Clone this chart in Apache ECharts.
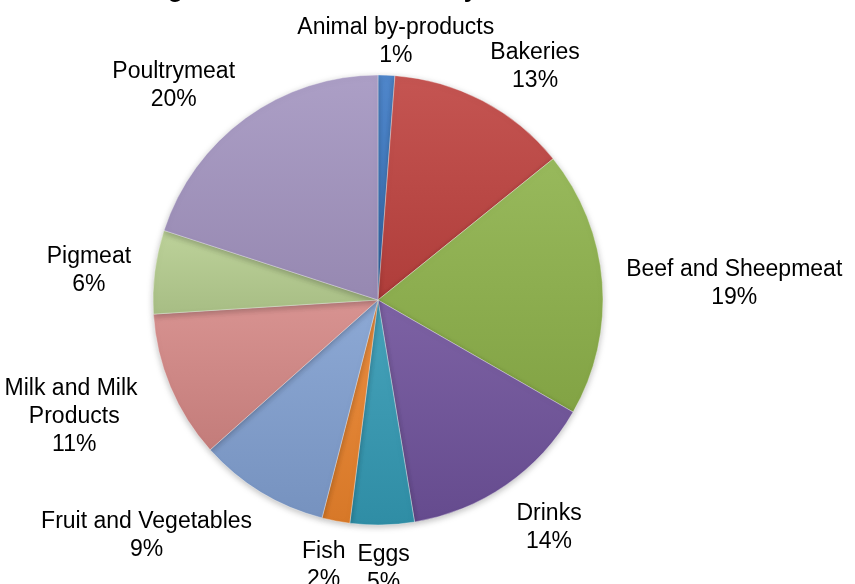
<!DOCTYPE html>
<html>
<head>
<meta charset="utf-8">
<script src="https://cdn.jsdelivr.net/npm/echarts@6/dist/echarts.min.js"></script>
<style>
    html, body { margin: 0; padding: 0; background: #fff; }
    #main { width: 855px; height: 584px; }
</style>
</head>
<body>
<div id="main"></div>
<script>
var titleText = 'Percentage of Food Businesses by Sector in Northern Ireland';
var sectors = ['Animal by-products', 'Bakeries', 'Beef and Sheepmeat', 'Drinks', 'Eggs',
    'Fish', 'Fruit and Vegetables', 'Milk and Milk Products', 'Pigmeat', 'Poultrymeat'];
var shares = [1.2, 13.0, 19.1, 14.1, 4.6, 2.0, 9.4, 10.6, 6.0, 20.0];
var colors = ['#3b78c4', '#be423f', '#8db14a', '#6e519a', '#3399b3',
    '#ea822c', '#809fd0', '#d48785', '#b6cd8f', '#a394c0'];

var pieCenter = [378, 300];
var pieRadius = 225;
var total = shares.reduce(function (a, b) { return a + b; }, 0);

// lighten (amt > 0) or darken (amt < 0) a hex colour
function shade(hex, amt) {
    var n = parseInt(hex.slice(1), 16);
    var ch = [(n >> 16) & 255, (n >> 8) & 255, n & 255].map(function (v) {
        var t = amt > 0 ? v + (255 - v) * amt : v * (1 + amt);
        return Math.round(Math.max(0, Math.min(255, t)));
    });
    return 'rgb(' + ch.join(',') + ')';
}

function renderChart(dom) {
    var myChart = echarts.init(dom);
    var data = sectors.map(function (name, i) {
        var item = {
            name: name,
            value: shares[i],
            itemStyle: {
                color: new echarts.graphic.LinearGradient(0, 0, 0, 1, [
                    { offset: 0, color: shade(colors[i], 0.1) },
                    { offset: 1, color: shade(colors[i], -0.08) }
                ])
            }
        };
        if (name === 'Milk and Milk Products') {
            item.label = { width: 150, overflow: 'break' };
        }
        return item;
    });

    var option = {
        backgroundColor: '#fff',
        animation: false,
        title: {
            text: titleText,
            left: 'center',
            top: -27,
            textStyle: {
                fontFamily: 'Arial, "Liberation Sans", sans-serif',
                fontSize: 25,
                fontWeight: 'bold',
                color: '#000'
            }
        },
        series: [
            {
                type: 'pie',
                center: pieCenter,
                radius: pieRadius,
                startAngle: 90,
                clockwise: true,
                avoidLabelOverlap: false,
                data: data,
                itemStyle: {
                    borderColor: 'rgba(255,255,255,0.35)',
                    borderWidth: 1,
                    shadowBlur: 6,
                    shadowColor: 'rgba(0,0,0,0.25)',
                    shadowOffsetY: 2
                },
                label: {
                    show: true,
                    position: 'outside',
                    color: '#000',
                    fontFamily: 'Arial, "Liberation Sans", sans-serif',
                    fontSize: 23,
                    lineHeight: 28,
                    formatter: function (p) {
                        return p.name + '\n' + Math.round(p.value / total * 100) + '%';
                    }
                },
                labelLine: { show: false },
                // best-fit style placement: box pushed outward from the slice's mid angle
                labelLayout: function (params) {
                    var i = params.dataIndex;
                    var before = 0;
                    for (var k = 0; k < i; k++) before += shares[k];
                    var theta = (before + shares[i] / 2) / total * Math.PI * 2;
                    var s = Math.sin(theta), c = Math.cos(theta);
                    var dist = pieRadius + 10 + 14 * Math.abs(s);
                    var px = pieCenter[0] + dist * s;
                    var py = pieCenter[1] - dist * c;
                    var w = params.labelRect.width, h = params.labelRect.height;
                    var f = Math.max(-1, Math.min(1, 2.4 * s));
                    return {
                        x: px + f * w / 2,
                        y: py - c * h / 2 + 5,
                        align: 'center',
                        verticalAlign: 'middle'
                    };
                },
                emphasis: { disabled: true }
            }
        ]
    };

    option && myChart.setOption(option);
}

renderChart(document.getElementById('main'));
</script>
</body>
</html>
